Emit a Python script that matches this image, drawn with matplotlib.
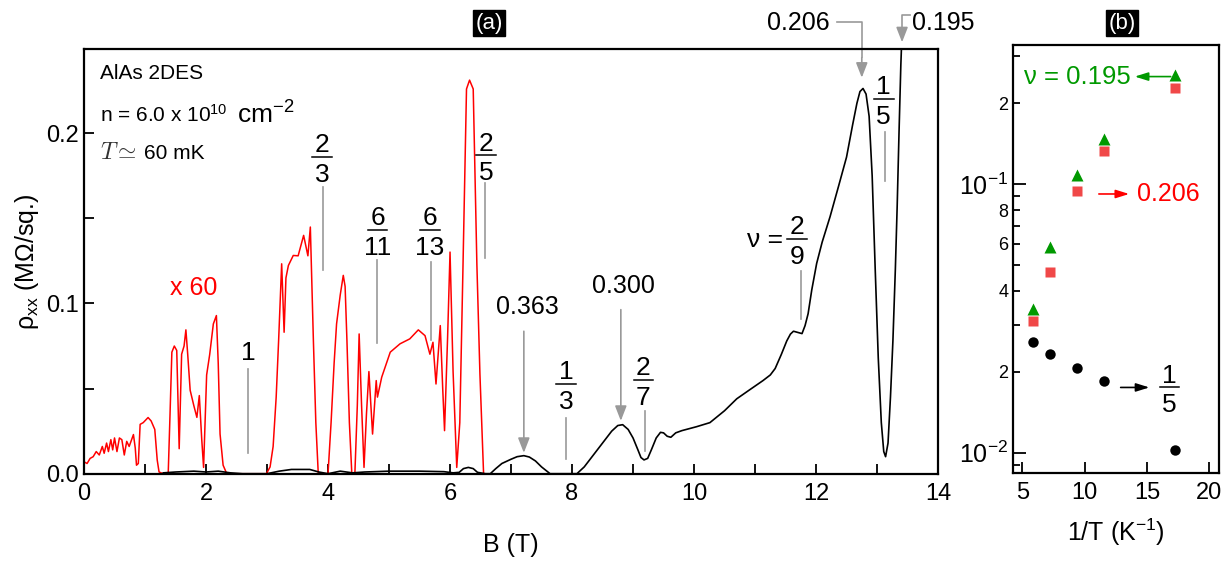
import numpy as np
import matplotlib
matplotlib.use('Agg')
import matplotlib.pyplot as plt
from matplotlib.ticker import MultipleLocator, FixedLocator, FixedFormatter, FormatStrFormatter

plt.rcParams['font.family'] = ['Liberation Sans', 'DejaVu Sans']
plt.rcParams['mathtext.fontset'] = 'custom'
plt.rcParams['mathtext.rm'] = 'Liberation Sans'
plt.rcParams['mathtext.it'] = 'Liberation Sans:italic'
plt.rcParams['mathtext.bf'] = 'Liberation Sans:bold'

# ---- panel (a): rho_xx vs B, black trace
b_black = [1.3, 1.5, 1.8, 2.0, 2.2, 2.4, 2.6, 3.0, 3.2, 3.4, 3.7, 3.85, 4.0, 4.2,
           4.4, 4.6, 5.0, 5.5, 5.9, 6.05, 6.15, 6.22, 6.3, 6.38, 6.45, 6.58,
           6.66, 6.75, 6.85, 7.0, 7.1, 7.21, 7.3, 7.4, 7.5, 7.64, 8.08, 8.2,
           8.35, 8.5, 8.65, 8.75, 8.83, 8.92, 9.0, 9.08, 9.13, 9.18, 9.24, 9.3,
           9.38, 9.45, 9.5, 9.56, 9.62, 9.7, 9.8, 10.04, 10.26, 10.5, 10.7, 10.9,
           11.13, 11.25, 11.33, 11.43, 11.52, 11.58, 11.63, 11.7, 11.77, 11.82,
           11.87, 11.93, 12.01, 12.1, 12.23, 12.37, 12.5, 12.6, 12.67, 12.72,
           12.77, 12.82, 12.87, 12.92, 12.97, 13.02, 13.07, 13.11, 13.14, 13.18,
           13.22, 13.26, 13.3, 13.33, 13.36, 13.39, 13.42]
rho_black = [0.0005, 0.001, 0.0015, 0.001, 0.0015, 0.0005, 0.0, 0.0, 0.0015,
             0.0025, 0.0025, 0.001, 0.0, 0.0015, 0.0005, 0.001, 0.0015, 0.0015,
             0.0012, 0.0005, 0.0008, 0.003, 0.0037, 0.003, 0.0008, 0.0, 0.0,
             0.003, 0.006, 0.0085, 0.010, 0.0106, 0.0098, 0.0075, 0.004, 0.0,
             0.0, 0.004, 0.011, 0.018, 0.025, 0.0283, 0.0288, 0.026, 0.021, 0.014,
             0.0095, 0.0081, 0.009, 0.014, 0.021, 0.0243, 0.024, 0.022, 0.0214,
             0.024, 0.0253, 0.0276, 0.030, 0.037, 0.044, 0.049, 0.0547, 0.058,
             0.0618, 0.070, 0.078, 0.082, 0.0837, 0.083, 0.0823, 0.087, 0.094,
             0.108, 0.1235, 0.136, 0.151, 0.169, 0.186, 0.205, 0.2176, 0.2245,
             0.2263, 0.223, 0.210, 0.175, 0.120, 0.068, 0.030, 0.013, 0.010,
             0.018, 0.045, 0.078, 0.120, 0.157, 0.200, 0.240, 0.270]

# red trace (x 60)
b_red = [0.0, 0.05, 0.1, 0.15, 0.2, 0.25, 0.3, 0.33, 0.37, 0.4, 0.44, 0.47, 0.5,
         0.54, 0.58, 0.62, 0.66, 0.7, 0.74, 0.78, 0.81, 0.84, 0.86, 0.89, 0.92,
         0.97, 1.05, 1.1, 1.16, 1.2, 1.23, 1.3, 1.38, 1.41, 1.44, 1.48, 1.52,
         1.56, 1.6, 1.64, 1.67, 1.7, 1.74, 1.8, 1.85, 1.89, 1.93, 1.96, 2.01,
         2.06, 2.12, 2.17, 2.2, 2.23, 2.28, 2.34, 2.99, 3.05, 3.1, 3.15, 3.19,
         3.24, 3.28, 3.31, 3.35, 3.43, 3.51, 3.6, 3.67, 3.71, 3.76, 3.8, 3.84,
         4.0, 4.05, 4.1, 4.14, 4.2, 4.25, 4.28, 4.31, 4.35, 4.39, 4.44, 4.48,
         4.51, 4.55, 4.59, 4.63, 4.67, 4.73, 4.79, 4.81, 4.88, 5.02, 5.18, 5.34,
         5.48, 5.59, 5.67, 5.72, 5.77, 5.84, 5.88, 5.91, 5.96, 6.0, 6.05, 6.11,
         6.16, 6.21, 6.27, 6.32, 6.38, 6.44, 6.49, 6.55]
rho_red = [0.007, 0.006, 0.009, 0.01, 0.013, 0.011, 0.016, 0.012, 0.018, 0.013,
           0.02, 0.014, 0.021, 0.013, 0.021, 0.02, 0.011, 0.019, 0.016, 0.02,
           0.023, 0.015, 0.005, 0.006, 0.029, 0.03, 0.033, 0.031, 0.026, 0.008,
           0.001, 0.0, 0.0, 0.035, 0.0714, 0.075, 0.0724, 0.0147, 0.0702, 0.075,
           0.0845, 0.07, 0.049, 0.040, 0.0331, 0.0459, 0.02, 0.0037, 0.058, 0.07,
           0.088, 0.0929, 0.065, 0.0233, 0.005, 0.0, 0.0, 0.004, 0.016, 0.045,
           0.0782, 0.1233, 0.0831, 0.115, 0.1223, 0.1282, 0.128, 0.14, 0.128,
           0.1449, 0.0782, 0.03, 0.0, 0.0, 0.03, 0.065, 0.088, 0.105, 0.1165,
           0.11, 0.0782, 0.03, 0.0, 0.0, 0.04, 0.0821, 0.04, 0.0037, 0.035, 0.060,
           0.0233, 0.0547, 0.045, 0.0567, 0.0714, 0.0763, 0.0792, 0.0845, 0.0811,
           0.0702, 0.0772, 0.0527, 0.087, 0.05, 0.0253, 0.08, 0.1302, 0.06, 0.0037,
           0.03, 0.1175, 0.226, 0.2312, 0.226, 0.123, 0.0586, 0.0]

# ---- panel (b): rho_xx vs 1/T
inv_t = [5.86, 7.19, 9.39, 11.52, 17.29]
rho_195 = [0.0344, 0.0585, 0.1077, 0.1466, 0.255]
rho_206 = [0.0309, 0.0472, 0.0942, 0.1327, 0.2285]
rho_fifth = [0.0258, 0.0234, 0.0207, 0.0185, 0.0102]

gray = '#999999'

fig = plt.figure(figsize=(12.32, 5.61), dpi=100)
ax = fig.add_axes([0.0682, 0.1556, 0.6932, 0.7571])
ax2 = fig.add_axes([0.8222, 0.1574, 0.1672, 0.7624])

ax.plot(b_red, rho_red, color='red', lw=1.1)
ax.plot(b_black, rho_black, color='black', lw=1.2)
ax.set_xlim(0, 14)
ax.set_ylim(0, 0.2495)
ax.xaxis.set_major_locator(MultipleLocator(2))
ax.xaxis.set_minor_locator(MultipleLocator(1))
ax.yaxis.set_major_locator(MultipleLocator(0.1))
ax.yaxis.set_minor_locator(MultipleLocator(0.05))
ax.yaxis.set_major_formatter(FormatStrFormatter('%.1f'))
ax.tick_params(which='both', direction='in', length=7.5, width=1.3, labelsize=17,
               top=False, right=False)
ax.tick_params(axis='x', which='both', pad=7)
for s in ax.spines.values():
    s.set_linewidth(1.6)
ax.set_xlabel('B (T)', fontsize=18, labelpad=20)
ax.set_ylabel(r'ρ$_{\mathrm{xx}}$ (MΩ/sq.)', fontsize=18, labelpad=4)

# sample text
ax.text(0.019, 0.943, 'AlAs 2DES', transform=ax.transAxes, fontsize=15, va='center')
ax.text(0.019, 0.844, r'n = 6.0 x 10$^{10}$', transform=ax.transAxes,
        fontsize=15, va='center')
ax.text(0.1788, 0.844, r'cm$^{-2}$', transform=ax.transAxes,
        fontsize=19, va='center')
ax.text(0.019, 0.755, r'$T\simeq$', transform=ax.transAxes, fontsize=17,
        va='center', math_fontfamily='cm', color='#333333')
ax.text(0.070, 0.755, '60 mK', transform=ax.transAxes, fontsize=15, va='center')
ax.text(1.8, 0.1088, 'x 60', color='red', fontsize=18, ha='center', va='center')


def frac(axis, x, y, num, den, half, size=19, color='black'):
    # numerator, bar and denominator stacked around the bar at (x, y)
    axis.plot([x - half, x + half], [y, y], color=color, lw=1.1, clip_on=False)
    axis.annotate(num, (x, y), xytext=(0, 3.5), textcoords='offset points',
                  ha='center', va='baseline', fontsize=size, color=color)
    axis.annotate(den, (x, y), xytext=(0, -18), textcoords='offset points',
                  ha='center', va='baseline', fontsize=size, color=color)


# filling-factor marks
marks_b = [2.69, 3.92, 4.80, 5.68, 6.58, 7.90, 9.20, 11.75, 13.13]
marks_lo = [0.0124, 0.1194, 0.077, 0.0788, 0.1265, 0.0088, 0.0135, 0.091, 0.172]
marks_hi = [0.0618, 0.1682, 0.1253, 0.1241, 0.171, 0.033, 0.037, 0.119, 0.2006]
marks_lab_x = [2.69, 3.90, 4.81, 5.67, 6.59, 7.90, 9.17, 11.69, 13.11]
marks_lab_y = [0.0712, 0.186, 0.143, 0.143, 0.187, 0.0529, 0.0553, 0.138, 0.220]
marks_num = ['1', '2', '6', '6', '2', '1', '2', '2', '1']
marks_den = ['', '3', '11', '13', '5', '3', '7', '9', '5']

for i in range(len(marks_b)):
    ax.plot([marks_b[i], marks_b[i]], [marks_lo[i], marks_hi[i]], color=gray, lw=1.2)
    if marks_den[i] == '':
        ax.text(marks_lab_x[i], marks_lab_y[i], marks_num[i], fontsize=19,
                ha='center', va='center')
    else:
        frac(ax, marks_lab_x[i], marks_lab_y[i], marks_num[i], marks_den[i], 0.16)
ax.text(11.16, 0.137, 'ν =', fontsize=19, ha='center', va='center')

# arrows to peaks
arrow_kw = dict(arrowstyle='-|>,head_length=0.9,head_width=0.35', color=gray, lw=1.2)
ax.annotate('', xy=(7.21, 0.0106), xytext=(7.21, 0.0853), arrowprops=arrow_kw)
ax.text(7.26, 0.0978, '0.363', fontsize=18, ha='center', va='center')
ax.annotate('', xy=(8.80, 0.0294), xytext=(8.80, 0.098), arrowprops=arrow_kw)
ax.text(8.85, 0.11, '0.300', fontsize=18, ha='center', va='center')

ax.text(12.23, 0.2647, '0.206', fontsize=18, ha='right', va='center',
        clip_on=False)
ax.plot([12.34, 12.75, 12.75], [0.2653, 0.2653, 0.245], color=gray, lw=1.2,
        clip_on=False)
ax.annotate('', xy=(12.75, 0.231), xytext=(12.75, 0.246), arrowprops=arrow_kw,
            annotation_clip=False)
ax.text(13.57, 0.2647, '0.195', fontsize=18, ha='left', va='center',
        clip_on=False)
ax.plot([13.54, 13.41, 13.41], [0.2694, 0.2694, 0.262], color=gray, lw=1.2,
        clip_on=False)
ax.annotate('', xy=(13.41, 0.2518), xytext=(13.41, 0.263), arrowprops=arrow_kw,
            annotation_clip=False)

# ---- panel (b)
ax2.plot(inv_t, rho_195, '^', color='#009900', ms=9, mec='none')
ax2.plot(inv_t, rho_206, 's', color='#f04848', ms=7.5, mec='none')
ax2.plot(inv_t, rho_fifth, 'o', color='black', ms=7.5, mec='none')
ax2.set_yscale('log')
ax2.set_xlim(4.25, 20.78)
ax2.set_ylim(0.00843, 0.329)
ax2.xaxis.set_major_locator(FixedLocator([5, 10, 15, 20]))
ax2.xaxis.set_minor_locator(FixedLocator([]))
ax2.yaxis.set_major_locator(FixedLocator([0.01, 0.1]))
ax2.yaxis.set_major_formatter(FixedFormatter([r'10$^{-2}$', r'10$^{-1}$']))
minor_y = [0.009, 0.02, 0.03, 0.04, 0.05, 0.06, 0.07, 0.08, 0.09, 0.2, 0.3]
minor_lab = ['', '2', '', '4', '', '6', '', '8', '', '2', '']
ax2.yaxis.set_minor_locator(FixedLocator(minor_y))
ax2.yaxis.set_minor_formatter(FixedFormatter(minor_lab))
ax2.tick_params(which='both', direction='in', top=False, right=False, width=1.3)
ax2.tick_params(axis='x', which='major', length=8, labelsize=17, pad=7)
ax2.tick_params(axis='y', which='major', length=9.5, labelsize=18)
ax2.tick_params(axis='y', which='minor', length=5, labelsize=13)
for s in ax2.spines.values():
    s.set_linewidth(1.6)
ax2.set_xlabel(r'1/T (K$^{-1}$)', fontsize=18, labelpad=9)

head = '-|>,head_length=0.8,head_width=0.25'
ax2.annotate('', xy=(13.8, 0.251), xytext=(17.13, 0.251),
             arrowprops=dict(arrowstyle=head, color='#009900', lw=1.2))
ax2.text(13.72, 0.251, 'ν = 0.195', color='#009900', fontsize=18.5, ha='right',
         va='center', clip_on=False)
ax2.annotate('', xy=(13.8, 0.0918), xytext=(10.92, 0.0918),
             arrowprops=dict(arrowstyle=head, color='red', lw=1.2))
ax2.text(14.2, 0.0918, '0.206', color='red', fontsize=18, ha='left',
         va='center', clip_on=False)
ax2.annotate('', xy=(15.42, 0.0175), xytext=(12.67, 0.0175),
             arrowprops=dict(arrowstyle=head, color='black', lw=1.2))
frac(ax2, 16.8, 0.0175, '1', '5', 0.78)

# panel tags
box = dict(boxstyle='square,pad=0.12', fc='black', ec='black')
fig.text(489 / 1232, 1 - 23 / 561, '(a)', color='white', fontsize=16,
         ha='center', va='center', bbox=box)
fig.text(1122 / 1232, 1 - 23 / 561, '(b)', color='white', fontsize=16,
         ha='center', va='center', bbox=box)

fig.savefig('out.png', dpi=100)
